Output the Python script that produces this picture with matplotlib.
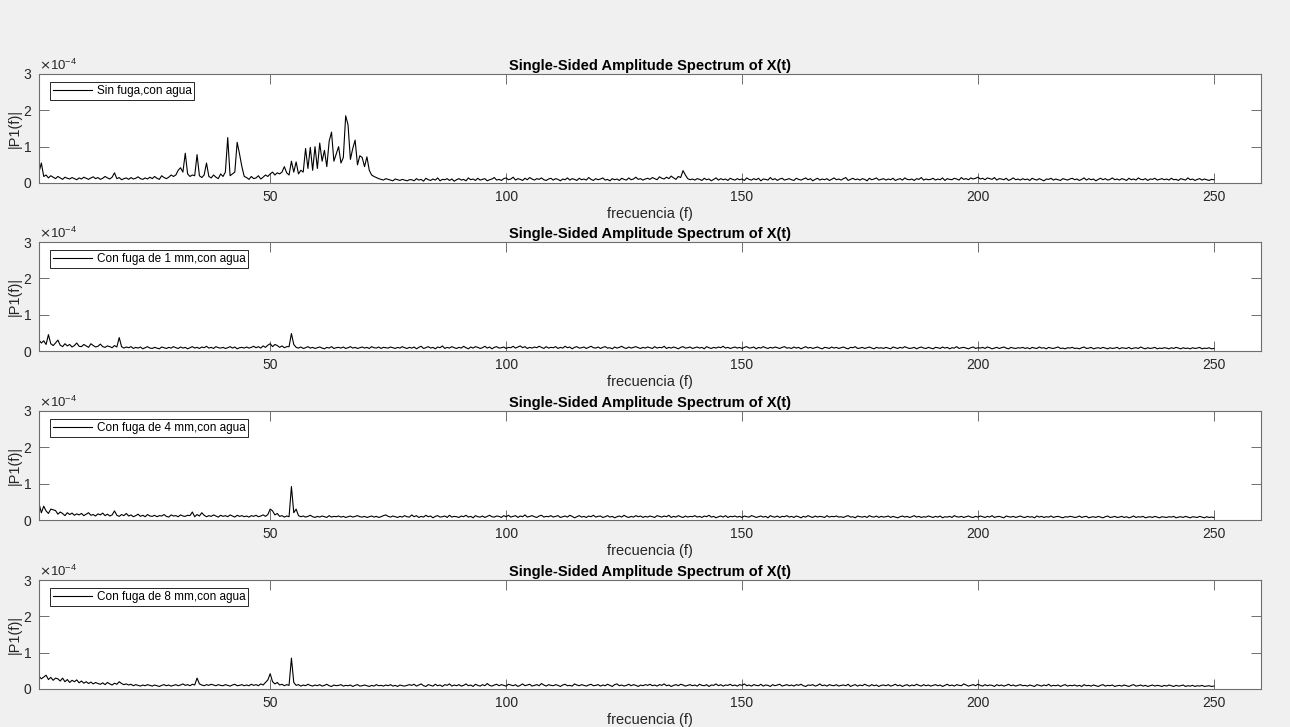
import numpy as np
import matplotlib
matplotlib.use('Agg')
import matplotlib.pyplot as plt
from matplotlib.ticker import ScalarFormatter

# Espectros, en unidades de 1e-6
# banda baja: 0 .. 79.5 Hz cada 0.5 Hz; banda alta: 80 .. 250 Hz cada 0.5 Hz
sin_fuga_lo = [
    20, 25, 30, 55, 18, 22, 14, 20, 16, 12,
    18, 14, 10, 16, 13, 11, 15, 12, 9, 14,
    11, 16, 13, 10, 14, 17, 12, 15, 10, 13,
    18, 14, 11, 16, 28, 12, 15, 9, 12, 14,
    10, 15, 11, 13, 17, 12, 10, 14, 11, 16,
    12, 18, 13, 10, 20, 15, 12, 16, 22, 18,
    22, 35, 42, 30, 82, 25, 18, 22, 20, 78,
    20, 15, 22, 55, 18, 14, 22, 16, 12, 25,
    18, 30, 125, 20, 25, 30, 112, 80, 45, 18,
    15, 10, 18, 12, 14, 20, 11, 16, 22, 18,
    25, 30, 22, 28, 25, 30, 45, 28, 22, 60,
    30, 58, 25, 35, 30, 95, 40, 98, 35, 100,
    40, 110, 60, 90, 45, 115, 140, 60, 80, 100,
    55, 70, 185, 160, 65, 95, 118, 50, 75, 70,
    45, 72, 35, 22, 18, 15, 12, 10, 8, 12,
    10, 8, 6, 11, 9, 7, 10, 8, 6, 9,
]
sin_fuga_hi = [
    9, 6, 12, 8, 10, 5, 13, 9, 7, 11, 8, 14, 6, 10, 9, 12, 7, 11, 5, 9,
    12, 8, 10, 6, 14, 9, 11, 7, 13, 8, 10, 12, 6, 9, 11, 15, 8, 10, 7, 12,
    14, 9, 11, 16, 8, 12, 10, 7, 13, 9, 15, 11, 8, 12, 10, 14, 9, 7, 11, 13,
    8, 12, 10, 6, 11, 9, 14, 8, 12, 10, 7, 13, 9, 11, 8, 15, 10, 7, 12, 9,
    11, 14, 8, 10, 6, 12, 9, 11, 7, 13, 10, 8, 14, 9, 11, 16, 10, 12, 8, 11,
    13, 10, 15, 12, 9, 17, 13, 11, 16, 12, 19, 14, 10, 18, 15, 34, 22, 12, 9, 11,
    8, 12, 10, 7, 13, 9, 11, 6, 10, 14, 8, 12, 9, 11, 7, 13, 10, 8, 12, 9,
    11, 7, 14, 10, 8, 12, 9, 13, 6, 11, 10, 8, 15, 9, 12, 7, 11, 13, 8, 10,
    12, 9, 7, 13, 10, 8, 11, 14, 9, 12, 6, 10, 13, 8, 11, 9, 12, 7, 10, 14,
    9, 11, 8, 12, 15, 7, 10, 13, 9, 11, 8, 12, 10, 6, 13, 9, 11, 14, 8, 10,
    12, 8, 11, 9, 13, 7, 10, 12, 8, 14, 10, 9, 11, 7, 12, 10, 15, 8, 11, 9,
    10, 13, 8, 11, 9, 14, 7, 12, 10, 9, 13, 11, 8, 15, 10, 12, 9, 14, 11, 13,
    16, 11, 13, 9, 14, 12, 10, 15, 8, 12, 11, 9, 13, 7, 10, 14, 9, 11, 8, 12,
    9, 11, 7, 13, 10, 8, 12, 9, 6, 11, 10, 13, 8, 11, 9, 7, 12, 10, 8, 11,
    13, 9, 11, 7, 10, 14, 8, 12, 9, 11, 6, 10, 13, 9, 12, 8, 10, 14, 9, 11,
    8, 12, 10, 7, 13, 9, 11, 8, 14, 10, 9, 12, 7, 11, 10, 13, 8, 10, 12, 9,
    11, 8, 13, 9, 10, 7, 12, 10, 8, 14, 9, 11, 7, 10, 12, 8, 11, 9, 7, 10,
    9,
]

fuga1_lo = [
    25, 28, 30, 22, 28, 18, 45, 20, 15, 22,
    30, 16, 12, 20, 14, 18, 11, 15, 22, 13,
    12, 18, 14, 10, 20, 15, 11, 13, 19, 12,
    10, 14, 12, 9, 15, 11, 37, 12, 8, 11,
    9, 12, 7, 10, 8, 11, 6, 9, 12, 8,
    7, 10, 8, 6, 11, 9, 7, 10, 8, 12,
    9, 7, 11, 8, 10, 6, 9, 12, 8, 10,
    7, 11, 9, 13, 8, 10, 7, 12, 9, 8,
    10, 7, 9, 12, 8, 11, 6, 9, 10, 8,
    11, 8, 10, 13, 9, 12, 8, 14, 10, 16,
    20, 12, 18, 15, 10, 14, 9, 12, 12, 48,
    18, 10, 8, 11, 7, 9, 12, 8, 10, 7,
    9, 11, 8, 6, 10, 8, 12, 7, 9, 10,
    8, 11, 7, 9, 12, 8, 10, 7, 9, 11,
    8, 10, 7, 12, 9, 8, 11, 7, 10, 9,
    8, 11, 9, 7, 10, 8, 12, 9, 7, 10,
]
fuga1_hi = [
    8, 11, 6, 10, 13, 7, 9, 12, 8, 10, 6, 11, 9, 14, 7, 10, 8, 12, 9, 7,
    10, 8, 13, 9, 6, 11, 8, 12, 10, 7, 9, 13, 8, 11, 6, 10, 12, 8, 9, 11,
    7, 10, 9, 13, 8, 11, 14, 9, 12, 7, 10, 8, 11, 9, 13, 10, 7, 12, 8, 10,
    9, 12, 7, 10, 8, 13, 9, 11, 6, 10, 12, 8, 9, 11, 7, 10, 13, 9, 8, 11,
    7, 10, 12, 8, 9, 6, 11, 8, 10, 13, 9, 7, 11, 8, 10, 12, 9, 7, 10, 8,
    11, 9, 7, 12, 8, 10, 9, 13, 7, 10, 8, 11, 9, 6, 10, 12, 8, 9, 11, 7,
    9, 11, 8, 10, 6, 12, 9, 7, 10, 8, 11, 9, 13, 8, 10, 7, 9, 11, 8, 10,
    7, 10, 12, 8, 9, 11, 6, 10, 8, 12, 9, 7, 10, 8, 11, 9, 7, 10, 12, 8,
    9, 7, 11, 8, 10, 6, 9, 12, 8, 10, 7, 9, 11, 8, 6, 10, 9, 7, 11, 8,
    10, 7, 9, 11, 8, 6, 10, 9, 12, 7, 8, 10, 7, 9, 11, 8, 6, 10, 8, 9,
    7, 10, 8, 6, 11, 9, 7, 10, 8, 12, 9, 7, 8, 10, 6, 9, 11, 8, 7, 10,
    8, 6, 10, 9, 7, 11, 8, 10, 6, 9, 8, 12, 7, 9, 10, 8, 6, 9, 11, 7,
    9, 8, 10, 7, 11, 9, 6, 8, 10, 7, 9, 11, 8, 6, 10, 8, 7, 9, 8, 10,
    7, 9, 6, 10, 8, 7, 11, 8, 9, 6, 10, 8, 7, 9, 11, 7, 8, 6, 9, 8,
    10, 7, 8, 6, 9, 11, 7, 8, 10, 6, 8, 9, 7, 10, 8, 6, 9, 7, 8, 10,
    6, 9, 8, 7, 10, 6, 8, 9, 7, 11, 8, 6, 9, 7, 8, 10, 6, 8, 7, 9,
    8, 6, 9, 7, 10, 8, 6, 9, 7, 8, 6, 9, 7, 8, 10, 6, 8, 7, 9, 6,
    7,
]

fuga4_lo = [
    30, 35, 45, 20, 38, 25, 18, 30, 28, 26,
    16, 22, 18, 12, 20, 15, 19, 13, 17, 14,
    18, 12, 16, 20, 13, 15, 11, 17, 14, 19,
    12, 16, 11, 14, 25, 13, 10, 15, 12, 18,
    11, 14, 9, 12, 16, 10, 13, 9, 15, 11,
    10, 13, 9, 12, 11, 15, 10, 8, 14, 11,
    12, 9, 14, 11, 10, 13, 12, 22, 9, 15,
    11, 20, 13, 9, 12, 10, 14, 11, 8, 13,
    10, 12, 9, 14, 11, 8, 13, 10, 12, 9,
    11, 8, 12, 10, 13, 9, 11, 14, 10, 15,
    30, 25, 14, 18, 10, 12, 8, 11, 9, 92,
    20, 30, 12, 9, 11, 8, 10, 13, 9, 7,
    10, 8, 11, 9, 7, 12, 8, 10, 9, 11,
    8, 10, 7, 9, 11, 8, 10, 12, 9, 8,
    10, 7, 9, 11, 8, 10, 7, 9, 12, 14,
    10, 8, 11, 9, 7, 10, 8, 12, 9, 8,
]
fuga4_hi = [
    14, 9, 12, 7, 10, 8, 13, 9, 11, 6, 10, 12, 8, 9, 11, 7, 13, 8, 10, 9,
    7, 11, 9, 13, 8, 10, 6, 12, 9, 8, 11, 7, 10, 13, 9, 8, 11, 10, 7, 12,
    9, 13, 8, 10, 12, 7, 11, 9, 14, 8, 10, 12, 9, 7, 11, 13, 8, 10, 9, 12,
    8, 10, 12, 7, 9, 11, 8, 13, 10, 6, 9, 12, 8, 10, 7, 11, 9, 13, 8, 10,
    11, 7, 9, 12, 8, 10, 6, 9, 11, 8, 13, 9, 7, 10, 8, 12, 9, 11, 7, 10,
    8, 11, 9, 7, 12, 10, 8, 11, 9, 13, 7, 10, 8, 12, 9, 7, 11, 8, 10, 9,
    12, 8, 10, 7, 11, 9, 13, 8, 10, 6, 9, 11, 8, 12, 7, 10, 9, 11, 8, 10,
    7, 11, 9, 8, 12, 10, 7, 9, 11, 8, 10, 6, 12, 9, 8, 11, 7, 10, 9, 12,
    8, 10, 7, 11, 9, 6, 10, 8, 12, 9, 7, 11, 8, 10, 9, 7, 12, 8, 10, 9,
    11, 8, 9, 7, 10, 12, 8, 9, 6, 11, 9, 8, 10, 7, 12, 9, 8, 11, 7, 10,
    8, 9, 11, 7, 10, 8, 6, 9, 11, 8, 10, 7, 9, 12, 8, 10, 7, 9, 8, 11,
    9, 7, 10, 8, 11, 6, 9, 8, 10, 7, 12, 9, 8, 10, 7, 9, 11, 8, 7, 10,
    8, 11, 9, 7, 10, 8, 12, 7, 9, 10, 8, 6, 11, 9, 8, 10, 7, 9, 11, 8,
    7, 10, 8, 9, 6, 11, 8, 10, 7, 9, 8, 11, 7, 9, 10, 8, 6, 9, 8, 10,
    9, 7, 8, 11, 7, 9, 10, 6, 8, 9, 7, 10, 8, 6, 9, 11, 7, 8, 10, 7,
    8, 10, 7, 9, 6, 8, 11, 7, 9, 8, 10, 6, 8, 9, 7, 10, 8, 6, 9, 8,
    7, 9, 8, 10, 6, 8, 9, 7, 10, 8, 6, 9, 8, 7, 10, 8, 6, 9, 7, 8,
    7,
]

fuga8_lo = [
    30, 32, 35, 28, 33, 38, 26, 32, 24, 30,
    28, 22, 30, 20, 26, 18, 24, 20, 25, 17,
    22, 16, 20, 15, 19, 14, 18, 15, 13, 17,
    12, 18, 14, 11, 16, 13, 20, 15, 12, 14,
    11, 13, 9, 12, 10, 8, 11, 9, 12, 10,
    8, 11, 9, 7, 10, 12, 9, 11, 8, 10,
    12, 9, 11, 14, 10, 12, 9, 13, 11, 30,
    14, 11, 9, 12, 10, 13, 11, 9, 12, 10,
    9, 12, 10, 8, 11, 13, 9, 10, 12, 9,
    11, 9, 13, 10, 12, 9, 14, 11, 18, 25,
    42, 20, 14, 18, 11, 13, 9, 12, 10, 85,
    18, 10, 12, 8, 11, 9, 13, 10, 8, 11,
    9, 12, 8, 10, 13, 9, 7, 11, 9, 10,
    12, 8, 10, 9, 11, 7, 10, 12, 8, 9,
    11, 9, 7, 10, 8, 12, 9, 10, 8, 11,
    9, 12, 8, 10, 7, 11, 9, 8, 10, 12,
]
fuga8_hi = [
    10, 13, 8, 11, 14, 9, 7, 12, 10, 8, 13, 9, 11, 7, 12, 10, 14, 8, 11, 9,
    12, 8, 10, 14, 9, 11, 7, 13, 10, 8, 12, 9, 15, 10, 8, 11, 13, 9, 12, 10,
    8, 13, 11, 9, 12, 7, 10, 14, 9, 11, 13, 8, 10, 12, 9, 15, 11, 8, 12, 10,
    9, 12, 10, 7, 11, 13, 9, 10, 8, 14, 11, 9, 12, 10, 8, 11, 13, 9, 10, 12,
    8, 11, 9, 13, 10, 7, 12, 14, 9, 11, 8, 10, 13, 9, 12, 10, 7, 11, 9, 12,
    10, 13, 9, 11, 8, 12, 10, 14, 9, 11, 7, 10, 12, 9, 13, 11, 8, 10, 12, 9,
    11, 8, 13, 10, 9, 12, 7, 11, 10, 14, 9, 12, 8, 11, 10, 13, 9, 11, 8, 12,
    10, 14, 9, 11, 8, 12, 10, 9, 13, 8, 11, 10, 7, 12, 9, 11, 13, 8, 10, 12,
    9, 11, 8, 12, 10, 13, 9, 7, 11, 10, 12, 8, 10, 14, 9, 11, 8, 12, 10, 9,
    12, 8, 10, 11, 9, 13, 7, 10, 12, 8, 11, 9, 13, 10, 8, 12, 9, 11, 7, 10,
    11, 9, 12, 8, 10, 13, 9, 11, 7, 10, 12, 8, 11, 9, 13, 10, 8, 12, 9, 11,
    8, 10, 12, 9, 11, 7, 10, 13, 9, 11, 8, 12, 10, 9, 14, 11, 8, 10, 12, 9,
    13, 10, 8, 12, 9, 11, 10, 7, 12, 9, 11, 8, 10, 13, 9, 11, 8, 10, 12, 9,
    10, 8, 11, 9, 7, 12, 10, 8, 11, 9, 13, 8, 10, 9, 11, 7, 10, 12, 8, 10,
    9, 11, 8, 10, 7, 12, 9, 10, 8, 11, 9, 7, 10, 12, 8, 10, 9, 11, 7, 9,
    10, 8, 11, 9, 7, 10, 12, 8, 9, 11, 8, 10, 7, 9, 11, 8, 10, 9, 7, 10,
    8, 11, 9, 7, 10, 8, 9, 11, 7, 9, 8, 10, 7, 9, 8, 10, 7, 8, 9, 7,
    8,
]

etiquetas = ['Sin fuga,con agua', 'Con fuga de 1 mm,con agua',
             'Con fuga de 4 mm,con agua', 'Con fuga de 8 mm,con agua']
series = [(sin_fuga_lo, sin_fuga_hi), (fuga1_lo, fuga1_hi),
          (fuga4_lo, fuga4_hi), (fuga8_lo, fuga8_hi)]
xticks = [50, 100, 150, 200, 250]
yticks = [0, 1e-4, 2e-4, 3e-4]

f_lo = np.arange(0, 80, 0.5)
f_hi = np.arange(80, 250.25, 0.5)
f = np.concatenate([f_lo, f_hi])

plt.rcParams['font.family'] = ['Liberation Sans', 'DejaVu Sans']

fig = plt.figure(figsize=(12.9, 7.27), dpi=100, facecolor='#f0f0f0')

W, H = 1290, 727
izq, der = 39, 1261
tops = [74, 242, 411, 580]
alto = 109
gris = '#6e6e6e'
texto = '#262626'

for i, (lo, hi) in enumerate(series):
    y = np.array(lo + hi) * 1e-6
    ax = fig.add_axes([izq / W, 1 - (tops[i] + alto) / H, (der - izq) / W, alto / H])
    ax.set_facecolor('white')
    ax.plot(f, y, color='black', lw=0.8, label=etiquetas[i])
    ax.set_xlim(1, 260)
    ax.set_ylim(0, 3e-4)
    ax.set_xticks(xticks)
    ax.set_yticks(yticks)
    fmt = ScalarFormatter(useMathText=True)
    fmt.set_powerlimits((-3, 3))
    ax.yaxis.set_major_formatter(fmt)
    ax.yaxis.get_offset_text().set_fontsize(9.5)
    ax.yaxis.get_offset_text().set_color(texto)
    ax.tick_params(direction='in', length=7.5, width=0.7, colors=gris,
                   labelcolor=texto, labelsize=10, top=True, right=True, pad=5)
    for s in ax.spines.values():
        s.set_color(gris)
        s.set_linewidth(0.8)
    ax.set_title('Single-Sided Amplitude Spectrum of X(t)', fontsize=10.5,
                 fontweight='bold', color='black', pad=3)
    ax.set_xlabel('frecuencia (f)', fontsize=10.5, color=texto, labelpad=2)
    ax.set_ylabel('|P1(f)|', fontsize=10.5, color=texto, labelpad=1)
    leg = ax.legend(loc='upper left', bbox_to_anchor=(11 / (der - izq), 1 - 8 / alto),
                    borderaxespad=0, fontsize=8.5, handlelength=3.3,
                    handletextpad=0.4, borderpad=0.25, fancybox=False,
                    framealpha=1, edgecolor='#262626')
    leg.get_frame().set_linewidth(0.7)

fig.savefig('out.png', dpi=100, facecolor=fig.get_facecolor())
